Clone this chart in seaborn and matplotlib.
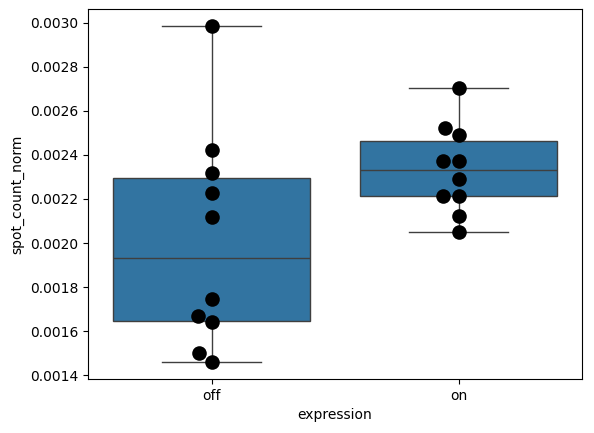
import matplotlib
matplotlib.use("Agg")
import matplotlib.pyplot as plt
import seaborn as sns
import pandas as pd

off_values = [0.002986, 0.002423, 0.002318, 0.002227, 0.002118,
              0.001745, 0.001668, 0.001641, 0.001500, 0.001459]
on_values = [0.002703, 0.002521, 0.002491, 0.002374, 0.002374,
             0.002291, 0.002214, 0.002214, 0.002123, 0.002051]
categories = ["off", "on"]

df = pd.DataFrame({
    "expression": ["off"] * len(off_values) + ["on"] * len(on_values),
    "spot_count_norm": off_values + on_values,
})

fig, ax = plt.subplots(figsize=(5.94, 4.33), dpi=100)
fig.subplots_adjust(left=88/594, right=582/594, top=1-9/433, bottom=1-379/433)
sns.boxplot(data=df, x="expression", y="spot_count_norm", order=categories, ax=ax)
sns.swarmplot(data=df, x="expression", y="spot_count_norm", order=categories,
              color="black", size=10.5, ax=ax)
fig.savefig("out.png", dpi=100)
